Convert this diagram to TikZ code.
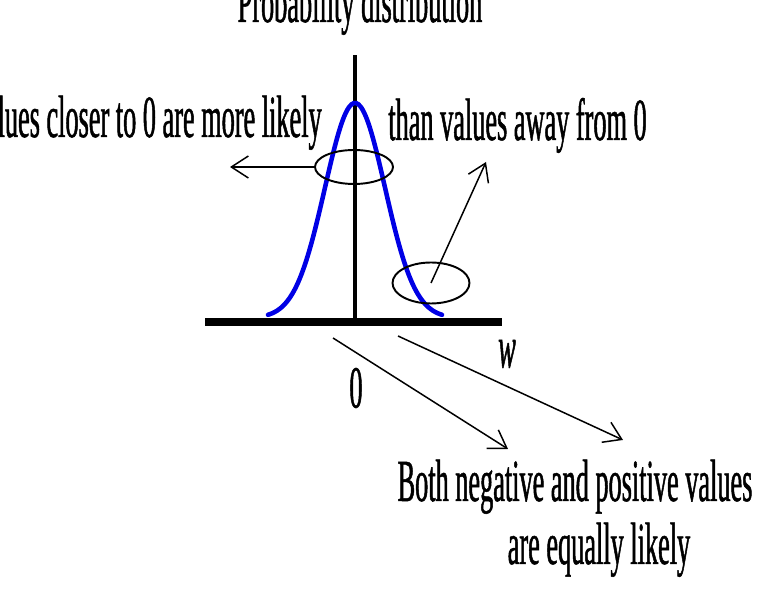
\documentclass[tikz,border=0pt]{standalone}
\usepackage{fontspec}
\newfontfamily\narrowserif[FakeStretch=0.44, FakeBold=0.8]{Liberation Serif}
\usetikzlibrary{arrows.meta, shapes.geometric}
\tikzset{
  label/.style={font=\narrowserif\fontsize{34pt}{41pt}\selectfont, inner sep=0pt},
  axis/.style={line width=2.3pt},
  density/.style={line width=2.6pt, blue!90!black, line cap=round},
  region/.style={draw, ellipse, line width=1.1pt, inner sep=0pt},
  pointer/.style={line width=0.85pt, -{Straight Barb[length=3.4mm, width=4.4mm]}},
}

\begin{document}
\begin{tikzpicture}[x=0.02cm, y=-0.02cm]
  \useasboundingbox (0,0) rectangle (764,590);
  % axes
  \coordinate (top) at (355,55);
  \coordinate (origin) at (355,322);
  \coordinate (xleft) at (205,322);
  \coordinate (xright) at (502,322);
  \draw[axis] (origin) -- (top);
  \draw[line width=4.5pt] (xleft) -- (xright);
  % bell curve
  \draw[density] plot[domain=-87:87, samples=80, smooth]
    ({355+\x}, {318-215*exp(-(\x*\x)/1800)});
  % marked regions
  \node[region, minimum width=1.56cm, minimum height=0.68cm] (peak) at (354,167) {};
  \node[region, minimum width=1.54cm, minimum height=0.82cm] (tail) at (431,283) {};
  \coordinate (peaktip) at (230,167);
  \coordinate (tailtip) at (486,162);
  \draw[pointer] (peak.west) -- (peaktip);
  \draw[pointer] (tail.center) -- (tailtip);
  % texts
  \node[label, anchor=base] (title) at (360,22) {Probability distribution};
  \node[label, anchor=base east] (near) at (322,137) {Values closer to 0 are more likely};
  \node[label, anchor=base west] (far) at (388,140) {than values away from 0};
  \node[label] (zero) at (356,388) {0};
  \node[label] (wlabel) at (507,354) {\itshape w};
  \node[label, anchor=base] (both) at (575,501) {Both negative and positive values};
  \node[label, anchor=base] (equal) at (599,564) {are equally likely};
  % symmetry arrows
  \coordinate (negstart) at (333,338);
  \coordinate (negtip) at (508,449);
  \coordinate (posstart) at (398,336);
  \coordinate (postip) at (623,440);
  \draw[pointer] (negstart) -- (negtip);
  \draw[pointer] (posstart) -- (postip);
\end{tikzpicture}
\end{document}
